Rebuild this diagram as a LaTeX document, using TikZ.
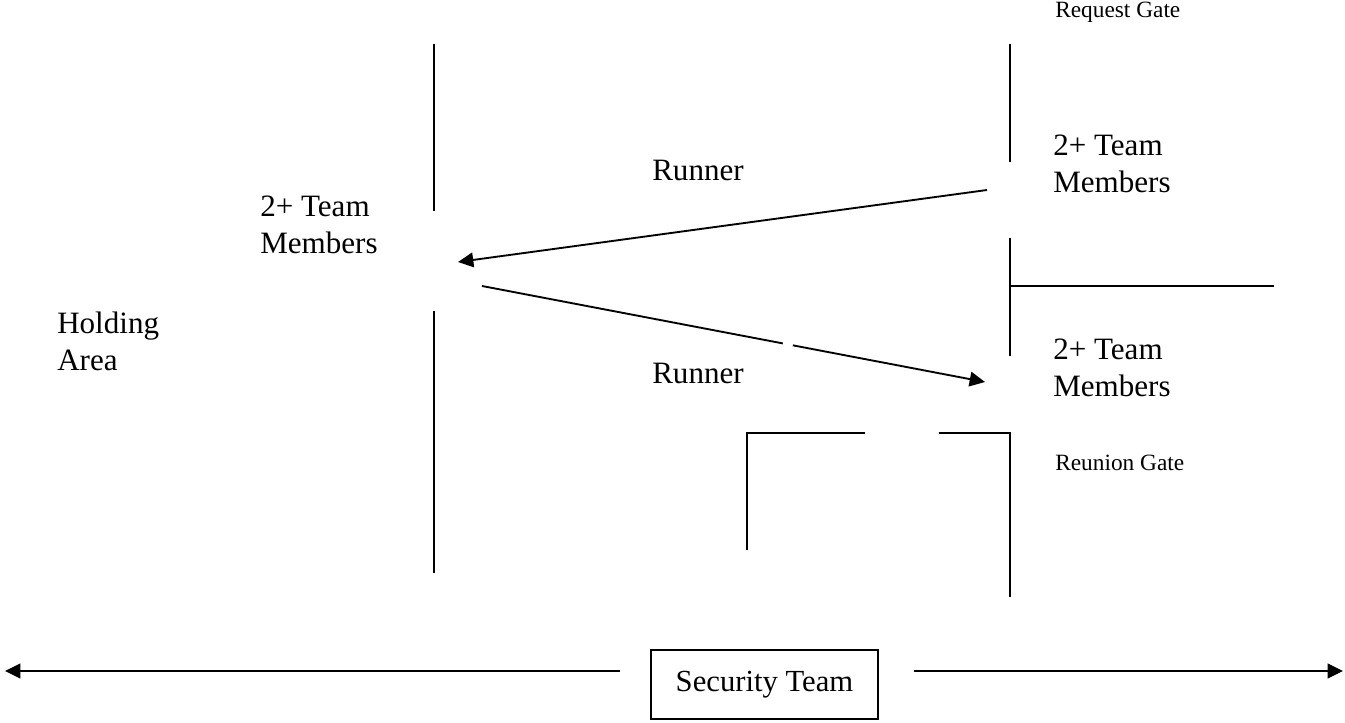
\documentclass[tikz,border=0pt]{standalone}
\usepackage{fontspec}
\setmainfont{Liberation Serif}
\usetikzlibrary{arrows.meta,calc}
\begin{document}
\begin{tikzpicture}[x=0.75pt,y=-0.75pt,
  wall/.style={line width=1.4pt},
  big/.style={font=\fontsize{23.3}{27.75}\selectfont, align=left, inner sep=0pt, anchor=west},
  small/.style={font=\fontsize{17.5}{21}\selectfont, inner sep=0pt, anchor=west},
  arr/.style={line width=1.4pt, -{Triangle[length=11.5pt,width=11pt]}},
  secbox/.style={draw, line width=1.3pt, minimum width=170.25pt, minimum height=51.75pt, inner sep=0pt, font=\fontsize{23}{27.75}\selectfont}]
\useasboundingbox (0,0) rectangle (1345,723);
% walls
\draw[wall] (434,44) -- (434,211);
\draw[wall] (434,311) -- (434,573);
\draw[wall] (1010,44) -- (1010,162);
\draw[wall] (1010,238) -- (1010,356);
\draw[wall] (1010,286) -- (1274,286);
\draw[wall] (1010,432) -- (1010,597);
\draw[wall] (747,550) -- (747,433) -- (865,433);
\draw[wall] (939,433) -- (1010,433);
% texts
\node[small] (reqgate) at (1055,12) {Request Gate};
\node[big] (tmA) at (1053,164) {2+ Team\\Members};
\node[big] (run1) at (652,170) {Runner};
\node[big] (tmL) at (260,225) {2+ Team\\Members};
\node[big] (hold) at (57,341) {Holding\\Area};
\node[big] (run2) at (652,373) {Runner};
\node[big] (tmB) at (1053,368) {2+ Team\\Members};
\node[small] (reugate) at (1055,463) {Reunion Gate};
\node[secbox] (sec) at (764.5,684.5) {Security Team};
% runner arrows
\coordinate (t1s) at (987,190);
\coordinate (t1e) at (458,262);
\draw[arr] (t1s) -- (t1e);
\coordinate (t2s) at (482,286);
\coordinate (t2e) at (985,382);
\draw[wall] (t2s) -- ($(t2s)!0.598!(t2e)$);
\draw[arr] ($(t2s)!0.618!(t2e)$) -- (t2e);
% security arrows
\coordinate (bl) at (620,671);
\coordinate (blend) at (5,671);
\coordinate (br) at (914,671);
\coordinate (brend) at (1343,671);
\draw[arr] (bl) -- (blend);
\draw[arr] (br) -- (brend);
\end{tikzpicture}
\end{document}
